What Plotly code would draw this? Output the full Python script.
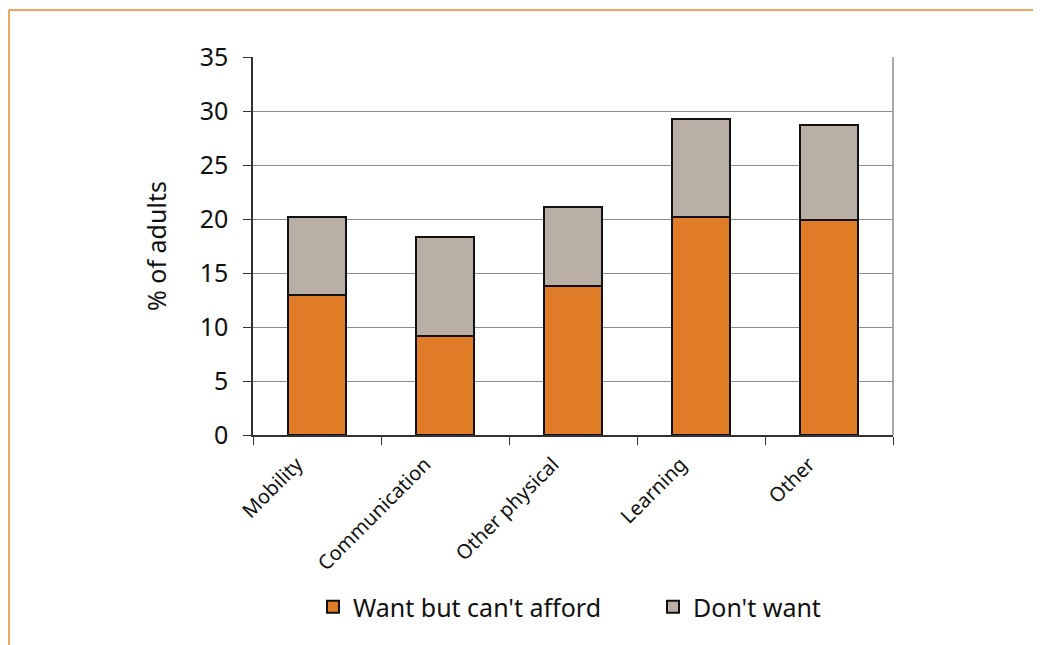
import plotly.graph_objects as go

categories = ["Mobility", "Communication", "Other physical", "Learning", "Other"]
want_cant_afford = [13.0, 9.2, 13.8, 20.2, 19.9]
dont_want = [7.2, 9.1, 7.3, 9.1, 8.8]
y_ticks = [0, 5, 10, 15, 20, 25, 30, 35]

FONT = "Noto Sans"
# page body has an 8px margin; figure coordinates below are screen coords minus 8
W, H = 1033, 637
L, T, R, B = 245, 49, 148, 210
PW, PH = W - L - R, H - T - B

def px_x(x):
    return (x - L) / PW

def px_y(y):
    return (H - B - y) / PH

fig = go.Figure()
fig.add_trace(go.Bar(
    x=categories, y=want_cant_afford, name="Want but can't afford",
    marker=dict(color="#E07B28", line=dict(color="#111111", width=2)),
    width=0.45, legend="legend",
))
fig.add_trace(go.Bar(
    x=categories, y=dont_want, name="Don't want",
    marker=dict(color="#B9AFA5", line=dict(color="#111111", width=2)),
    width=0.45, legend="legend2",
))

leg_common = dict(orientation="h", yanchor="top", font=dict(size=25, family=FONT),
                  bgcolor="rgba(0,0,0,0)")
fig.update_layout(
    barmode="stack",
    width=W, height=H,
    margin=dict(l=L, r=R, t=T, b=B, autoexpand=False),
    paper_bgcolor="white", plot_bgcolor="white",
    font=dict(family=FONT, color="#111111"),
    showlegend=True,
    legend=dict(x=px_x(305), xanchor="left", y=px_y(576), **leg_common),
    legend2=dict(x=px_x(645), xanchor="left", y=px_y(576), **leg_common),
    xaxis=dict(
        type="category", tickson="boundaries", ticks="outside", ticklen=8,
        tickcolor="#333333", showline=True, linecolor="#333333", linewidth=1.5,
        tickangle=-45, tickfont=dict(size=20, family=FONT), showgrid=False,
        ticklabelstandoff=8, ticklabelshift=-20,
        automargin=False,
    ),
    yaxis=dict(
        range=[0, 35], tickvals=y_ticks, ticks="outside", ticklen=8,
        tickcolor="#333333", showline=True, linecolor="#333333", linewidth=1.5,
        showgrid=True, gridcolor="#8c8c8c", gridwidth=1,
        tickfont=dict(size=25, family=FONT), ticklabelstandoff=10,
        title=dict(text="% of adults", font=dict(size=25, family=FONT), standoff=26),
        zeroline=False, automargin=False,
    ),
    shapes=[
        dict(type="line", xref="paper", yref="paper", x0=1, x1=1, y0=0, y1=1,
             line=dict(color="#8c8c8c", width=1.5)),
        dict(type="line", xref="paper", yref="paper", x0=px_x(1), x1=px_x(W),
             y0=px_y(2), y1=px_y(2), line=dict(color="#E8892F", width=1.5)),
        dict(type="line", xref="paper", yref="paper", x0=px_x(1), x1=px_x(1),
             y0=px_y(2), y1=px_y(H), line=dict(color="#E8892F", width=1.5)),
    ],
)

fig.write_html("out.html")
